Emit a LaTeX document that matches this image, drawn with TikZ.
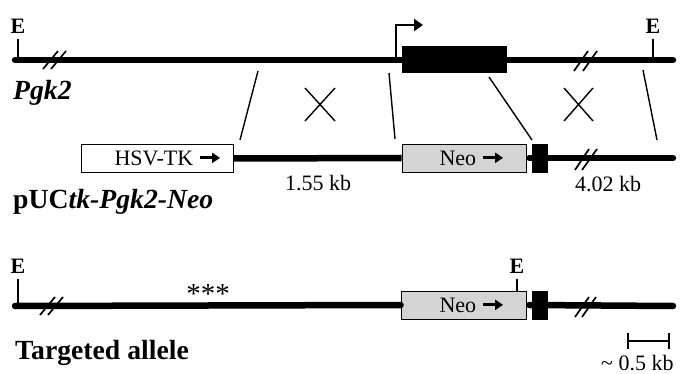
\documentclass[tikz,border=0pt]{standalone}
\usepackage{fontspec}
\setmainfont{Liberation Serif}
\usetikzlibrary{arrows.meta}
% short bold arrow used inside the cassette labels
\newcommand\fwdarrow{\tikz[baseline=-0.33em]\draw[line width=2.8pt,-{Triangle[length=8pt,width=10pt]}] (0pt,0pt)--(20pt,0pt);}
\begin{document}
\begin{tikzpicture}[x=1pt,y=-1pt,
  dna/.style={line width=6.5pt,line cap=round},
  rtick/.style={line width=1.2pt},
  brk/.style={line width=1.7pt},
  xover/.style={line width=1.4pt},
  cassette/.style={draw,line width=0.9pt,inner sep=0pt,minimum height=28pt},
  exon/.style={fill=black,draw=black,inner sep=0pt},
  txt/.style={font=\fontsize{22}{24}\selectfont,inner sep=0pt},
  site/.style={font=\bfseries\fontsize{22}{24}\selectfont,inner sep=0pt},
  title/.style={font=\bfseries\fontsize{27.7}{30}\selectfont,inner sep=0pt,anchor=base west},
  ]
\useasboundingbox (0,0) rectangle (682,374);

% ---------- wild-type Pgk2 locus ----------
\draw[dna] (15,60) -- (673,60);
\node[exon,minimum width=104pt,minimum height=26pt] (ex) at (454,59) {};
\coordinate (tss) at (396,62);
\coordinate (tssend) at (423,25);
\draw[line width=2.4pt,-{Triangle[length=9pt,width=12pt]}] (tss) |- (tssend);
\draw[rtick] (18,60) -- (18,39) node[site,above=5pt] (e1) {E};
\draw[rtick] (653,60) -- (653,39) node[site,above=5pt] (e2) {E};
\draw[brk] (43,69) -- (58,51) (51,69) -- (66,51);
\draw[brk] (574,71) -- (588,51) (583,71) -- (597,51);
\node[title,font=\bfseries\itshape\fontsize{27.7}{30}\selectfont] (lab1) at (13,100) {Pgk2};

% ---------- targeting vector ----------
\node[cassette,fill=white,minimum width=152pt] (tk) at (157,158.5) {};
\node[cassette,fill=black!17,minimum width=124pt] (neo1) at (464,158) {};
\draw[dna,line cap=butt] (tk.east) -- (neo1.west);
\draw[dna] (neo1.east) ++(3,0) -- (673,158);
\node[exon,minimum width=15pt,minimum height=28pt] (ex1) at (539.5,158) {};
\draw[brk] (575,170) -- (589,149) (582,170) -- (597,149);
\node[txt] (tklab) at (168,158) {HSV-TK \fwdarrow};
\node[txt] (neolab1) at (472,158) {Neo \fwdarrow};
\node[txt,anchor=base west] (kb1) at (285,190) {1.55 kb};
\node[txt,anchor=base west] (kb2) at (575,191) {4.02 kb};
\node[title] (lab2) at (13,208) {pUC\textit{tk-Pgk2-Neo}};

% ---------- homology arms and crossovers ----------
\coordinate (a1) at (258,71); \coordinate (b1) at (240,140);
\coordinate (a2) at (389,73); \coordinate (b2) at (395,139);
\coordinate (a3) at (489,77); \coordinate (b3) at (532,140);
\coordinate (a4) at (643,70); \coordinate (b4) at (657,140);
\draw[xover] (a1) -- (b1) (a2) -- (b2) (a3) -- (b3) (a4) -- (b4);
\draw[xover] (305,88) -- (335,121) (335,88) -- (305,121);
\draw[xover] (564,88) -- (593,121) (593,88) -- (564,121);

% ---------- targeted allele ----------
\node[cassette,fill=black!17,minimum width=125pt] (neo2) at (463.5,305) {};
\draw[dna] (15,306) -- (neo2.west);
\draw[dna] (neo2.east) ++(3,0) -- (673,306);
\node[exon,minimum width=15pt,minimum height=28pt] (ex2) at (539.5,305) {};
\draw[rtick] (18,306) -- (18,279) node[site,above=5pt] (e3) {E};
\draw[rtick] (517,291) -- (517,279) node[site,above=5pt] (e4) {E};
\draw[brk] (40,315) -- (55,297) (48,315) -- (63,297);
\draw[brk] (575,317) -- (589,297) (582,317) -- (596,297);
\node[txt] (neolab2) at (472,305) {Neo \fwdarrow};
\node[txt,font=\fontsize{29}{30}\selectfont] (stars) at (208,294) {***};
\node[title] (lab3) at (15,359) {Targeted allele};

% ---------- scale bar ----------
\coordinate (s1) at (628,341); \coordinate (s2) at (669,341);
\draw[line width=1.3pt] (s1) -- (s2);
\draw[line width=1.3pt] (628,333) -- (628,349) (669,333) -- (669,349);
\node[txt,anchor=base west] (scale) at (601,370) {\textasciitilde\ 0.5 kb};
\end{tikzpicture}
\end{document}
